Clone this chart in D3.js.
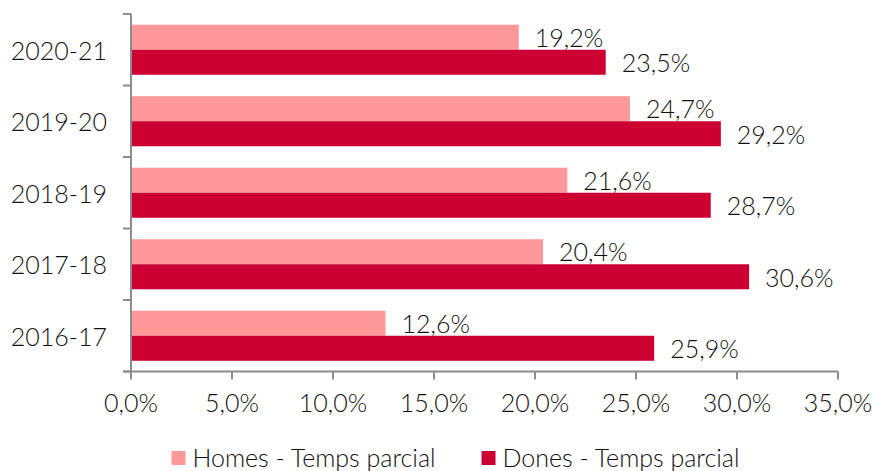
<!DOCTYPE html>
<html><head><meta charset="utf-8">
<script src="https://cdn.jsdelivr.net/npm/d3@7"></script>
<style>body{margin:0;background:#fff}svg{display:block}text{font-family:Lato,"Open Sans",sans-serif;font-weight:300;fill:#111}</style>
</head><body><svg id="c" width="876" height="471"></svg>
<script>
const categories = ["2020-21","2019-20","2018-19","2017-18","2016-17"];
const homes = [19.2, 24.7, 21.6, 20.4, 12.6];
const dones = [23.5, 29.2, 28.7, 30.6, 25.9];
const seriesNames = ["Homes - Temps parcial","Dones - Temps parcial"];
const xTicks = [0,5,10,15,20,25,30,35];
const colors = ["#FF9999","#CC0033"];

const svg = d3.select("#c");
const fs = 25;
const fmt = v => v.toFixed(1).replace(".", ",") + "%";
const x = d3.scaleLinear().domain([0,35]).range([131,838]);
const y = d3.scaleBand().domain(categories).range([14,371.5]).paddingInner(0.3).paddingOuter(0.15);
const sub = d3.scaleBand().domain([0,1]).range([0,y.bandwidth()]);
const axisColor = "#8c8c8c";
const series = [homes, dones];

// bars
series.forEach((vals, si) => {
  svg.append("g").selectAll("rect").data(categories).join("rect")
    .attr("x", x(0)).attr("y", (d)=>y(d)+sub(si))
    .attr("width", (d,i)=>x(vals[i])-x(0)).attr("height", sub.bandwidth())
    .attr("fill", colors[si]);
  svg.append("g").selectAll("text").data(categories).join("text")
    .attr("x", (d,i)=>x(vals[i])+16).attr("y", d=>y(d)+sub(si)+sub.bandwidth()/2+1)
    .attr("dy","0.35em").attr("font-size",fs).text((d,i)=>fmt(vals[i]));
});

// y axis
const step = y.step();
const yTop = y.range()[0], yBot = y.range()[1];
const g = svg.append("g");
g.append("line").attr("x1",x(0)).attr("x2",x(0)).attr("y1",yTop).attr("y2",yBot).attr("stroke",axisColor).attr("stroke-width",2);
d3.range(categories.length+1).forEach(i=>{
  g.append("line").attr("x1",x(0)-8).attr("x2",x(0)).attr("y1",yTop+i*step).attr("y2",yTop+i*step).attr("stroke",axisColor).attr("stroke-width",2);
});
g.selectAll("text.yl").data(categories).join("text").attr("class","yl")
  .attr("x",107).attr("y",d=>y(d)+y.bandwidth()/2+1).attr("dy","0.35em")
  .attr("text-anchor","end").attr("font-size",fs).text(d=>d);

// x axis
const gx = svg.append("g");
gx.append("line").attr("x1",x(0)-8).attr("x2",x(35)).attr("y1",yBot).attr("y2",yBot).attr("stroke",axisColor).attr("stroke-width",2);
gx.selectAll("line.t").data(xTicks).join("line").attr("class","t")
  .attr("x1",d=>x(d)).attr("x2",d=>x(d)).attr("y1",yBot).attr("y2",yBot+8).attr("stroke",axisColor).attr("stroke-width",2);
gx.selectAll("text").data(xTicks).join("text")
  .attr("x",d=>x(d)).attr("y",412).attr("text-anchor","middle").attr("font-size",fs).text(d=>fmt(d));

// legend
const lx = [171.5, 481.5];
seriesNames.forEach((n,i)=>{
  svg.append("rect").attr("x",lx[i]).attr("y",451).attr("width",14).attr("height",14).attr("fill",colors[i]);
  svg.append("text").attr("x",lx[i]+21).attr("y",467).attr("font-size",fs).text(n);
});
</script></body></html>
